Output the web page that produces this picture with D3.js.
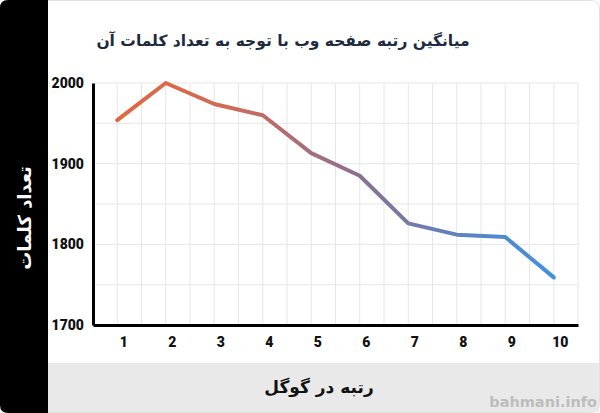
<!DOCTYPE html>
<html>
<head>
<meta charset="utf-8">
<script src="https://cdn.jsdelivr.net/npm/d3@7"></script>
<style>
  body { margin: 0; background: #fff; }
  svg { display: block; }
</style>
</head>
<body>
<div class="chart"></div>
<script>
var W = 600, H = 413;

// data
var ranks = [1, 2, 3, 4, 5, 6, 7, 8, 9, 10];
var wordCounts = [1954, 2000, 1974, 1960, 1913, 1885, 1826, 1812, 1809, 1759];
var yTicks = [1700, 1800, 1900, 2000];
var titleText = "میانگین رتبه صفحه وب با توجه به تعداد کلمات آن";
var yLabel = "تعداد کلمات";
var xLabel = "رتبه در گوگل";
var watermark = "bahmani.info";

var svg = d3.select(".chart").append("svg")
    .attr("width", W)
    .attr("height", H);

var defs = svg.append("defs");
var grad = defs.append("linearGradient")
    .attr("id", "lineGrad")
    .attr("gradientUnits", "userSpaceOnUse")
    .attr("x1", 117).attr("x2", 554)
    .attr("y1", 0).attr("y2", 0);
grad.append("stop").attr("offset", "0%").attr("stop-color", "#e2673e");
grad.append("stop").attr("offset", "25%").attr("stop-color", "#d06a55");
grad.append("stop").attr("offset", "55%").attr("stop-color", "#8c7090");
grad.append("stop").attr("offset", "80%").attr("stop-color", "#5b84c4");
grad.append("stop").attr("offset", "100%").attr("stop-color", "#3f91e0");

// card background
svg.append("rect")
    .attr("x", 0.5).attr("y", 0.5)
    .attr("width", W - 1).attr("height", H - 1)
    .attr("rx", 8)
    .attr("fill", "#fff")
    .attr("stroke", "#e2e2e2");

// bottom gray band
svg.append("rect")
    .attr("x", 48).attr("y", 363)
    .attr("width", W - 49).attr("height", H - 364)
    .attr("fill", "#e9e9e9");

// left black strip
svg.append("path")
    .attr("d", "M48,0 L8,0 Q0,0 0,8 L0,405 Q0,413 8,413 L48,413 Z")
    .attr("fill", "#000");

var x = d3.scaleLinear().domain([0.5, 10.5]).range([93, 578]);
var y = d3.scaleLinear().domain([1700, 2000]).range([325, 83]);

// grid
var g = svg.append("g");
g.selectAll(".vgrid")
  .data(d3.range(1, 10.51, 0.5))
  .enter().append("line")
    .attr("x1", function(d) { return x(d); })
    .attr("x2", function(d) { return x(d); })
    .attr("y1", y(2000)).attr("y2", y(1700))
    .attr("stroke", "#e6e6e6")
    .attr("stroke-width", 1);
g.selectAll(".hgrid")
  .data(d3.range(1750, 2001, 50))
  .enter().append("line")
    .attr("x1", x(0.5)).attr("x2", x(10.5))
    .attr("y1", function(d) { return y(d); })
    .attr("y2", function(d) { return y(d); })
    .attr("stroke", "#e6e6e6")
    .attr("stroke-width", 1);

// axes
var yAxis = svg.append("g")
    .attr("transform", "translate(" + x(0.5) + ",0)")
    .call(d3.axisLeft(y).tickValues(yTicks).tickSize(0).tickPadding(9).tickFormat(d3.format("d")));
yAxis.select(".domain").attr("stroke", "#000").attr("stroke-width", 3);
yAxis.selectAll("text")
    .attr("font-family", "Roboto, 'DejaVu Sans', sans-serif")
    .attr("font-weight", "900")
    .attr("font-size", 14)
    .attr("fill", "#111");

var xAxis = svg.append("g")
    .attr("transform", "translate(0," + y(1700) + ")")
    .call(d3.axisBottom(x).tickValues(ranks).tickSize(0).tickPadding(12).tickFormat(d3.format("d")));
xAxis.select(".domain").attr("stroke", "#000").attr("stroke-width", 3);
xAxis.selectAll("text")
    .attr("dx", 6)
    .attr("font-family", "Roboto, 'DejaVu Sans', sans-serif")
    .attr("font-weight", "900")
    .attr("font-size", 14)
    .attr("fill", "#111");

// line
var line = d3.line()
    .x(function(d, i) { return x(ranks[i]); })
    .y(function(d) { return y(d); });
svg.append("path")
    .datum(wordCounts)
    .attr("d", line)
    .attr("fill", "none")
    .attr("stroke", "url(#lineGrad)")
    .attr("stroke-width", 4)
    .attr("stroke-linejoin", "round")
    .attr("stroke-linecap", "round");

// texts
svg.append("text")
    .attr("x", 283).attr("y", 46)
    .attr("text-anchor", "middle")
    .attr("direction", "rtl")
    .attr("font-family", "'DejaVu Sans', sans-serif")
    .attr("font-weight", "bold")
    .attr("font-size", 15.5)
    .attr("fill", "#1d2b40")
    .text(titleText);

svg.append("text")
    .attr("transform", "translate(31,218) rotate(-90)")
    .attr("text-anchor", "middle")
    .attr("direction", "rtl")
    .attr("font-family", "'DejaVu Sans', sans-serif")
    .attr("font-weight", "bold")
    .attr("font-size", 18)
    .attr("fill", "#fff")
    .text(yLabel);

svg.append("text")
    .attr("x", 319).attr("y", 393)
    .attr("text-anchor", "middle")
    .attr("direction", "rtl")
    .attr("font-family", "'DejaVu Sans', sans-serif")
    .attr("font-weight", "bold")
    .attr("font-size", 17)
    .attr("fill", "#111")
    .text(xLabel);

svg.append("text")
    .attr("x", 597).attr("y", 407)
    .attr("text-anchor", "end")
    .attr("font-family", "'DejaVu Sans', sans-serif")
    .attr("font-weight", "bold")
    .attr("font-size", 14.5)
    .attr("fill", "#bdbdbd")
    .text(watermark);
</script>
</body>
</html>
